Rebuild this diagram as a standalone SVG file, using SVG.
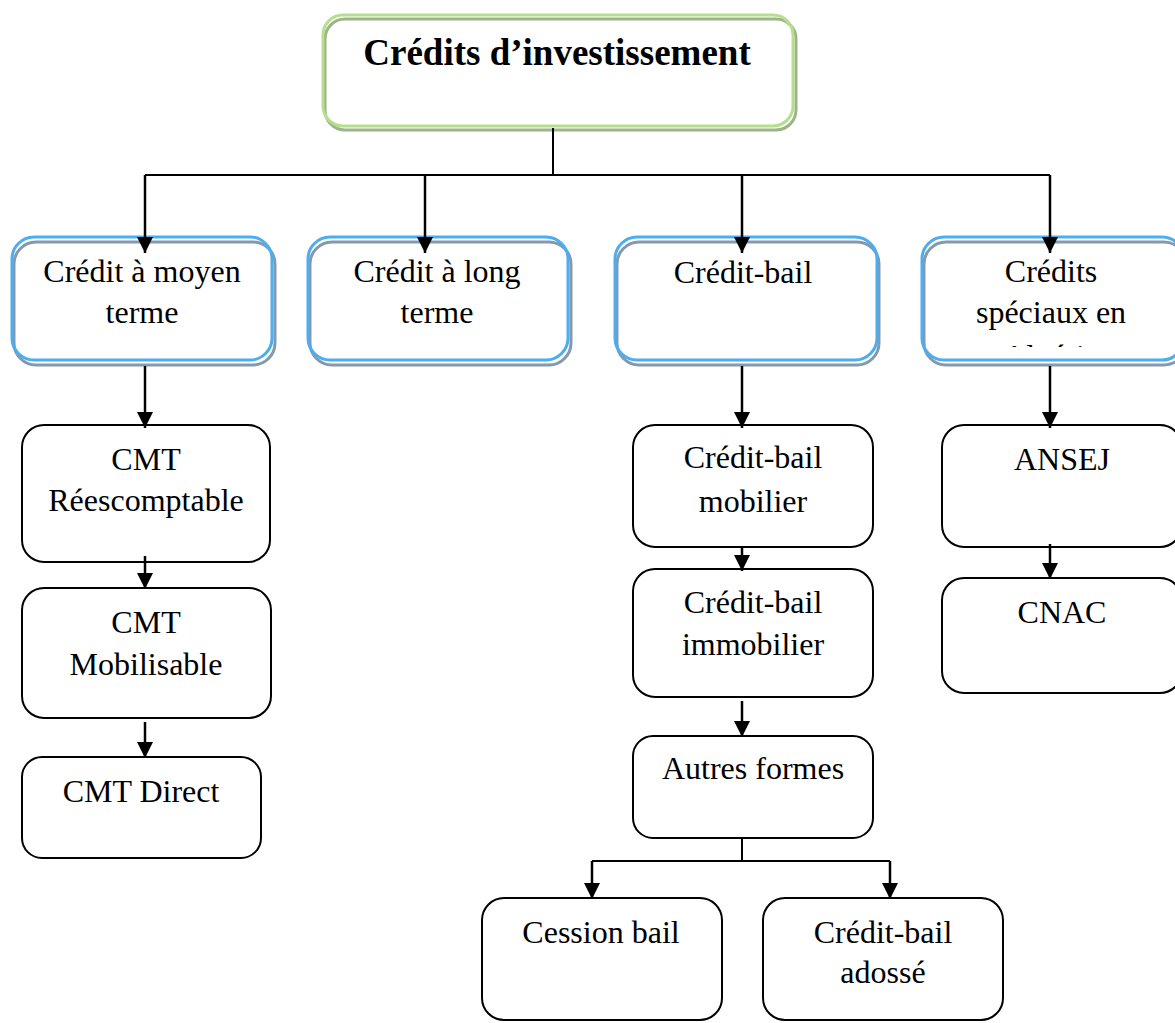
<svg xmlns="http://www.w3.org/2000/svg" width="1175" height="1023" viewBox="0 0 1175 1023">
<style>
text{font-family:"Liberation Serif","Times New Roman",serif;fill:#000;text-anchor:middle}
.t{font-size:32px}
.title{font-size:37px;font-weight:bold}
.box{fill:#fff;stroke:#000;stroke-width:2}
.blue{fill:none;stroke:#4aaef0;stroke-width:3}
.gray{fill:none;stroke:#8499ad;stroke-width:3}
.lg{fill:none;stroke:#b6df8c;stroke-width:3}
.dg{fill:none;stroke:#9db389;stroke-width:3}
.c{fill:none;stroke:#000;stroke-width:2}
.ca{fill:none;stroke:#000;stroke-width:2.5;marker-end:url(#ah)}
</style>
<defs>
<marker id="ah" markerUnits="userSpaceOnUse" markerWidth="16" markerHeight="16" viewBox="0 0 16 16" refX="16" refY="8" orient="auto">
<path d="M0,0 L16,8 L0,16 Z" fill="#000"/>
</marker>
<clipPath id="clipSp"><rect x="922" y="240" width="260" height="107"/></clipPath>
</defs>
<rect width="1175" height="1023" fill="#fff"/>

<g id="root">
<rect class="dg" x="325" y="19" width="471" height="111" rx="20"/>
<rect class="lg" x="323" y="15" width="470" height="111" rx="20"/>
<text class="title" x="557" y="65">Crédits d’investissement</text>
</g>

<g id="moyen">
<rect x="12" y="237" width="261" height="126" rx="22" fill="#fff"/>
<rect class="gray" x="14" y="242" width="261" height="123" rx="22"/>
<rect class="blue" x="12" y="237" width="260" height="123" rx="22"/>
<text class="t" x="142" y="282">Crédit à moyen</text>
<text class="t" x="142" y="323">terme</text>
</g>

<g id="long">
<rect x="308" y="237" width="261" height="126" rx="22" fill="#fff"/>
<rect class="gray" x="310" y="242" width="261" height="123" rx="22"/>
<rect class="blue" x="308" y="237" width="260" height="123" rx="22"/>
<text class="t" x="437" y="282">Crédit à long</text>
<text class="t" x="437" y="323">terme</text>
</g>

<g id="bail">
<rect x="615" y="237" width="262" height="126" rx="22" fill="#fff"/>
<rect class="gray" x="617" y="242" width="262" height="123" rx="22"/>
<rect class="blue" x="615" y="237" width="262" height="123" rx="22"/>
<text class="t" x="743" y="283">Crédit-bail</text>
</g>

<g id="speciaux">
<rect x="922" y="237" width="262" height="126" rx="22" fill="#fff"/>
<rect class="gray" x="924" y="242" width="262" height="123" rx="22"/>
<rect class="blue" x="922" y="237" width="262" height="123" rx="22"/>
<text class="t" x="1051" y="282">Crédits</text>
<text class="t" x="1051" y="323">spéciaux en</text>
<text class="t" x="1051" y="367" clip-path="url(#clipSp)">Algérie</text>
</g>

<g id="cmt-reesc">
<rect class="box" x="22" y="425" width="248" height="137" rx="22"/>
<text class="t" x="146" y="470">CMT</text>
<text class="t" x="146" y="511">Réescomptable</text>
</g>

<g id="cmt-mobil">
<rect class="box" x="22" y="588" width="249" height="130" rx="22"/>
<text class="t" x="146" y="633">CMT</text>
<text class="t" x="146" y="675">Mobilisable</text>
</g>

<g id="cmt-direct">
<rect class="box" x="22" y="757" width="239" height="101" rx="20"/>
<text class="t" x="141" y="802">CMT Direct</text>
</g>

<g id="cb-mobilier">
<rect class="box" x="633" y="425" width="240" height="122" rx="22"/>
<text class="t" x="753" y="468">Crédit-bail</text>
<text class="t" x="753" y="512">mobilier</text>
</g>

<g id="cb-immobilier">
<rect class="box" x="633" y="569" width="240" height="128" rx="22"/>
<text class="t" x="753" y="613">Crédit-bail</text>
<text class="t" x="753" y="655">immobilier</text>
</g>

<g id="autres">
<rect class="box" x="633" y="736" width="240" height="102" rx="20"/>
<text class="t" x="753" y="779">Autres formes</text>
</g>

<g id="cession">
<rect class="box" x="482" y="898" width="240" height="122" rx="22"/>
<text class="t" x="601" y="943">Cession bail</text>
</g>

<g id="adosse">
<rect class="box" x="763" y="898" width="240" height="122" rx="22"/>
<text class="t" x="883" y="943">Crédit-bail</text>
<text class="t" x="883" y="983">adossé</text>
</g>

<g id="ansej">
<rect class="box" x="942" y="425" width="240" height="122" rx="22"/>
<text class="t" x="1062" y="470">ANSEJ</text>
</g>

<g id="cnac">
<rect class="box" x="942" y="578" width="240" height="115" rx="22"/>
<text class="t" x="1062" y="623">CNAC</text>
</g>

<g id="connectors">
<path class="c" d="M553,128 V175 M145,175 H1050"/>
<path class="ca" d="M145,175 V253"/>
<path class="ca" d="M425,175 V253"/>
<path class="ca" d="M742,175 V253"/>
<path class="ca" d="M1050,175 V253"/>
<path class="ca" d="M145,366 V428"/>
<path class="ca" d="M145,556 V589"/>
<path class="ca" d="M145,722 V758"/>
<path class="ca" d="M742,366 V428"/>
<path class="ca" d="M742,548 V571"/>
<path class="ca" d="M742,701 V737"/>
<path class="c" d="M742,839 V861 M592,861 H890"/>
<path class="ca" d="M592,861 V899"/>
<path class="ca" d="M890,861 V899"/>
<path class="ca" d="M1050,366 V428"/>
<path class="ca" d="M1050,544 V579"/>
</g>
</svg>
